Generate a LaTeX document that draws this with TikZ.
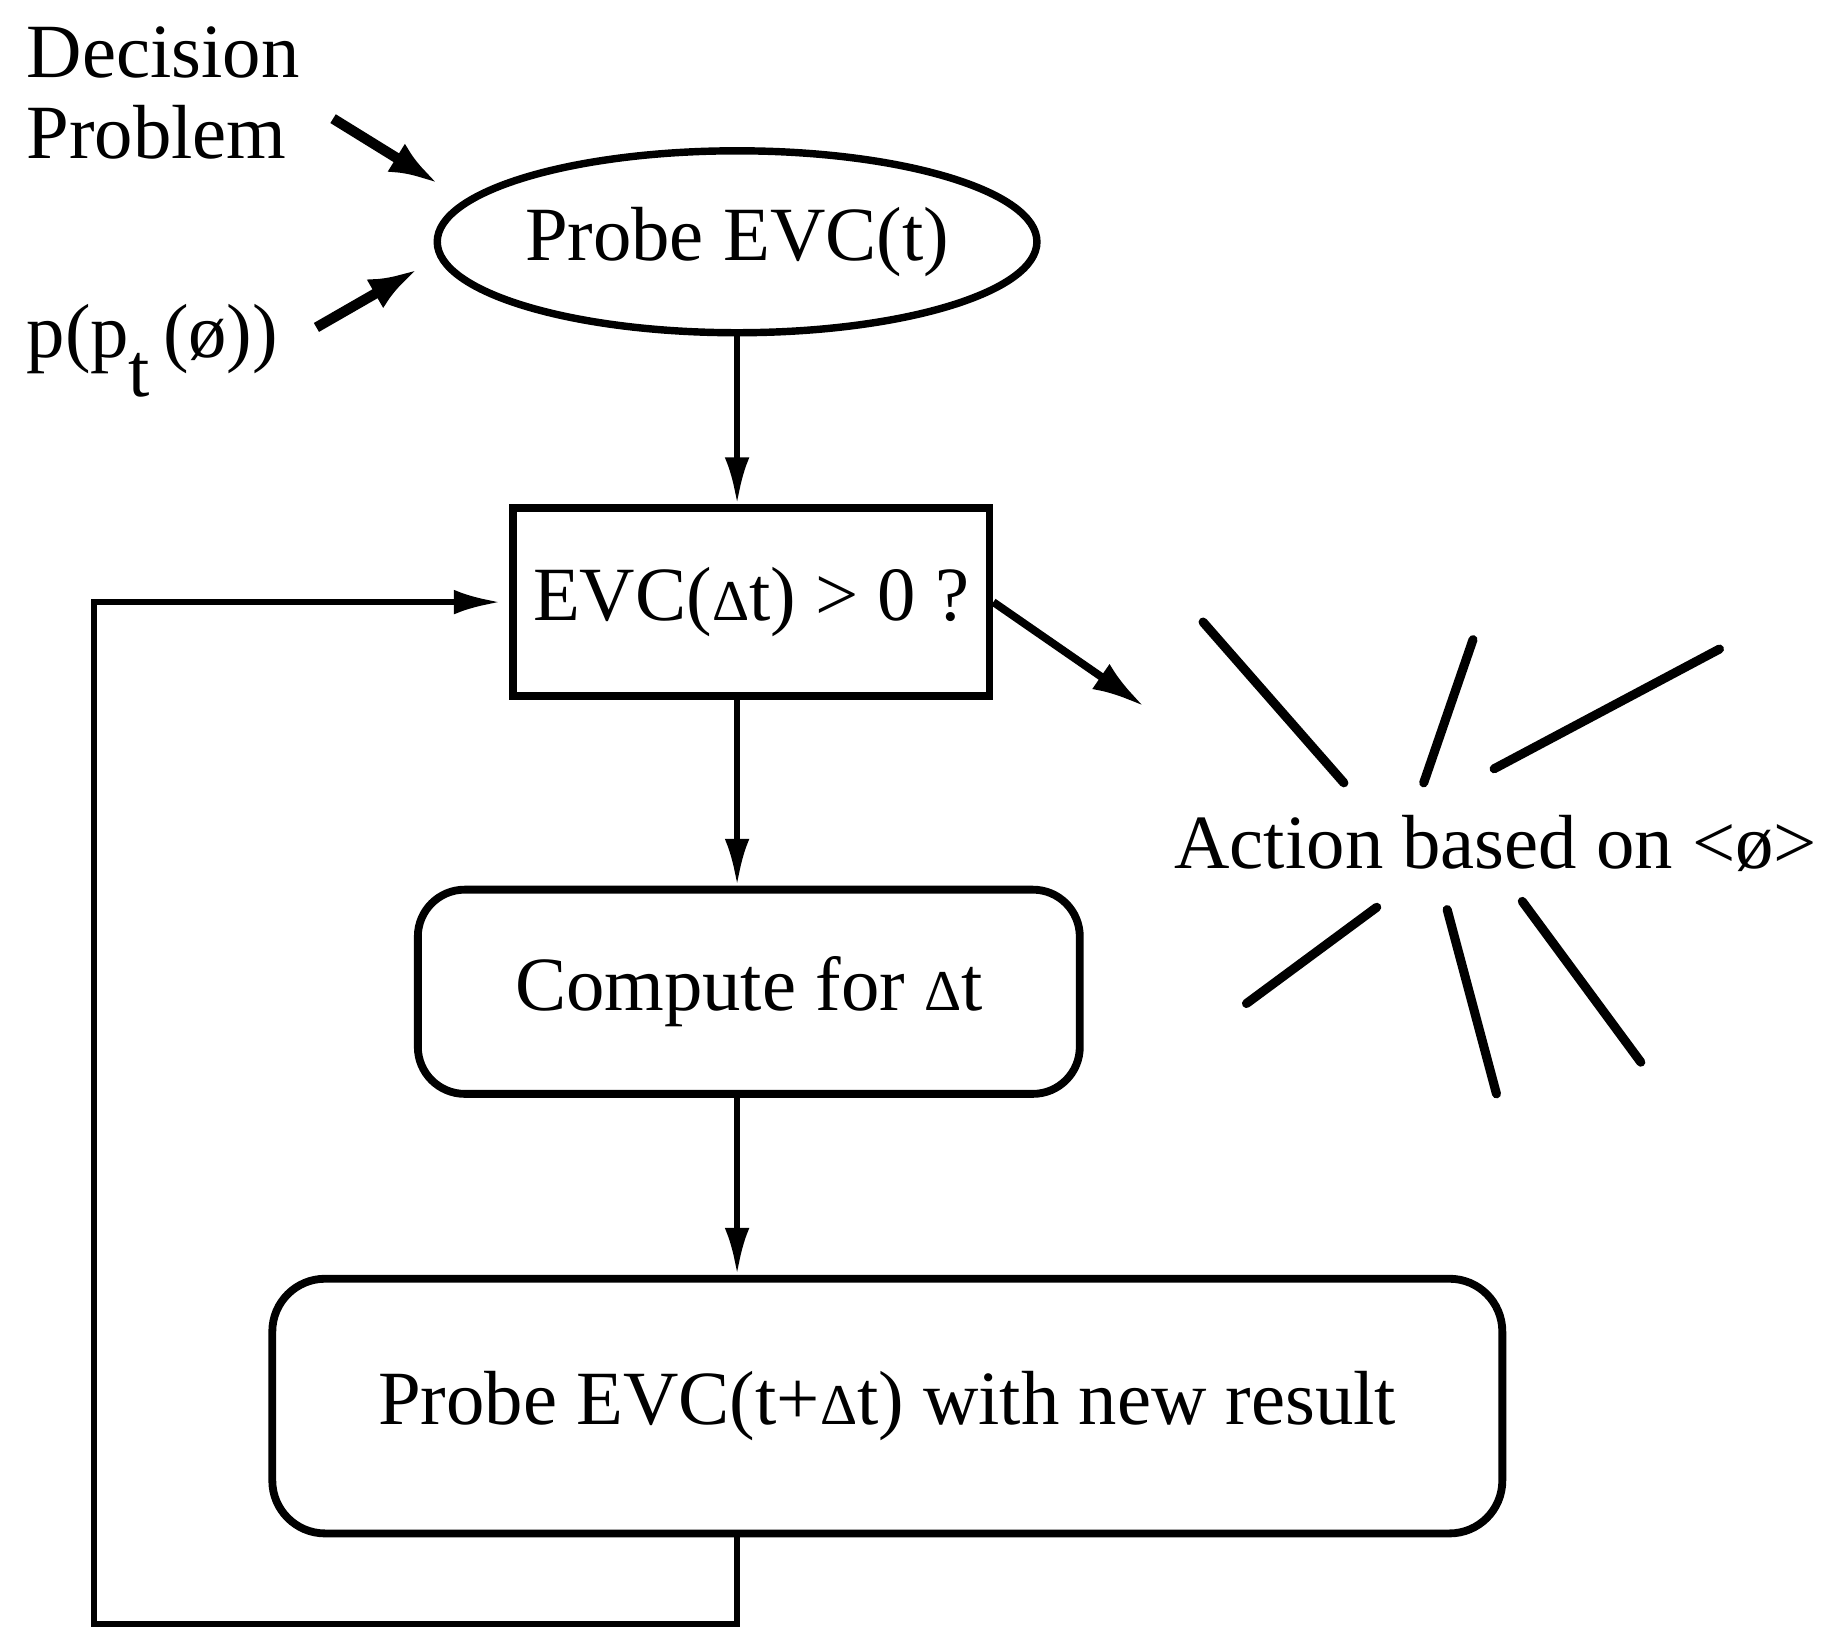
\documentclass[tikz,border=0pt]{standalone}
\usepackage{fontspec}
\setmainfont{Liberation Serif}
\usetikzlibrary{arrows.meta,shapes.geometric}
\newcommand{\sdelta}{{\fontsize{14}{14}\selectfont Δ}}

\begin{document}
\begin{tikzpicture}[x=0.1mm,y=-0.1mm,
  every node/.style={font=\fontsize{18.6}{15.6}\selectfont,inner sep=0pt},
  feed/.style={-{Latex[length=4.2mm,width=2.8mm]},line width=2.5pt},
  flow/.style={-{Latex[length=4mm,width=2.1mm]},line width=1.5pt},
  ray/.style={line width=2.2pt,line cap=round}]

\useasboundingbox (0,0) rectangle (1566,1388);

\node (DP) at (22,22)[anchor=north west,align=left] {Decision\\[4pt]Problem};
\node (PT) at (22,305)[anchor=base west] {p(p\raisebox{-0.5em}{t}\,(ø))};
\node (P0) at (628,206)[draw,ellipse,line width=1.8pt,minimum width=4.82cm,minimum height=1.55cm] {Probe EVC(t)};
\node (T1) at (640,513)[draw,rectangle,line width=1.9pt,minimum width=4.06cm,minimum height=1.6cm] {EVC(\sdelta t) > 0 ?};
\node (C1) at (638,845)[draw,rectangle,rounded corners=4mm,line width=1.9pt,minimum width=5.64cm,minimum height=1.74cm] {Compute for \sdelta t};
\node (P1) at (756,1198)[draw,rectangle,rounded corners=4.5mm,line width=1.9pt,minimum width=10.48cm,minimum height=2.17cm] {Probe EVC(t+\sdelta t) with new result};
\node (Act) at (1000,740)[anchor=base west] {Action based on <ø>};
\coordinate (Hit) at (975,602);
\coordinate (Low) at (80,1384);

\draw [feed] ([shift={(28,22)}]DP.east) -- ([shift={(-24,-13)}]P0.171);
\draw [feed] ([shift={(32,-20)}]PT.east) -- ([shift={(-17,10)}]P0.183);
\draw [flow] (P0.south) -- (P0.south |- T1.north);
\draw [-{Latex[length=4.5mm,width=2.6mm]},line width=1.9pt] (T1.east) -- (Hit);
\draw [flow] (T1.south -| P0) -- (C1.north -| P0);
\draw [flow] (C1.south -| P0) -- (P1.north -| P0);
\draw [flow] (P1.south -| P0) |- (Low) |- ([xshift=-0.7mm]T1.west);

\draw [ray] (1025,530) -- (1145,667);
\draw [ray] (1255,545) -- (1213,667);
\draw [ray] (1465,553) -- (1273,655);
\draw [ray] (1173,773) -- (1062,855);
\draw [ray] (1233,775) -- (1275,932);
\draw [ray] (1297,768) -- (1398,905);
\end{tikzpicture}
\end{document}
